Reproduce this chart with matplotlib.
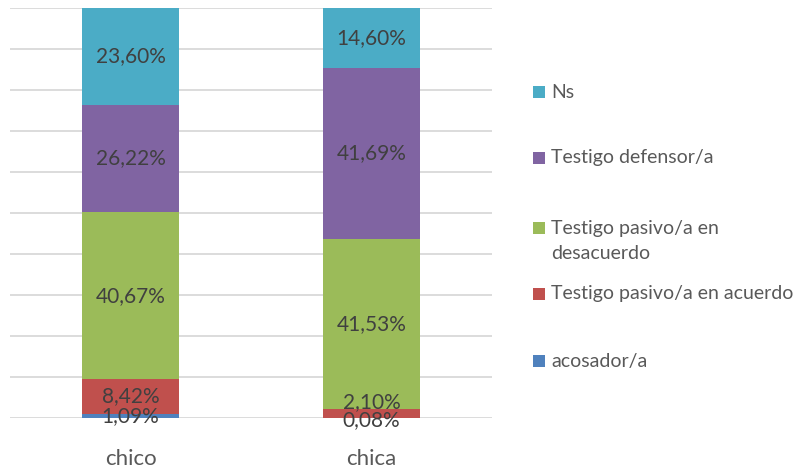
import matplotlib
matplotlib.use("Agg")
import matplotlib.pyplot as plt
from matplotlib.patches import Rectangle

categories = ["chico", "chica"]
series_names = ["acosador/a", "Testigo pasivo/a en acuerdo",
                "Testigo pasivo/a en\ndesacuerdo", "Testigo defensor/a", "Ns"]
acosador = [1.09, 0.08]
pasivo_acuerdo = [8.42, 2.10]
pasivo_desacuerdo = [40.67, 41.53]
defensor = [26.22, 41.69]
ns = [23.60, 14.60]
series_values = [acosador, pasivo_acuerdo, pasivo_desacuerdo, defensor, ns]
colors = ["#4F81BD", "#C0504D", "#9BBB59", "#8064A2", "#4BACC6"]

# label nudges in pixels (Excel moved the crowded chica labels apart)
label_nudge_px = {(0, 1): -2, (1, 1): 11}

FONT = "Lato"
plt.rcParams['font.family'] = [FONT, 'DejaVu Sans']

fig = plt.figure(figsize=(7.95, 4.70), dpi=100)
ax = fig.add_axes([10/795, 52/470, 482/795, 410/470])

x = list(range(len(categories)))
bottoms = [0.0] * len(categories)
for si, (vals, col) in enumerate(zip(series_values, colors)):
    ax.bar(x, vals, width=0.4, bottom=bottoms, color=col, zorder=3,
           edgecolor="none")
    for xi, v, b in zip(x, vals, bottoms):
        dy = label_nudge_px.get((si, xi), 0) * 72 / 100
        ax.annotate(f"{v:.2f}%".replace(".", ","), (xi, b + v / 2),
                    xytext=(0, dy), textcoords="offset points",
                    ha="center", va="center", fontsize=15, color="#404040",
                    zorder=4)
    bottoms = [b + v for b, v in zip(bottoms, vals)]

ax.set_xlim(-0.5, 1.5)
ax.set_ylim(0, 100)
ax.set_yticks(range(0, 101, 10))
ax.yaxis.grid(True, color="#D9D9D9", linewidth=1.3, zorder=0)
ax.tick_params(axis="y", left=False, labelleft=False)
ax.tick_params(axis="x", bottom=False, labelsize=16, labelcolor="#595959", pad=19)
ax.set_xticks(x)
ax.set_xticklabels(categories)
for s in ax.spines.values():
    s.set_visible(False)

# legend (top to bottom: Ns ... acosador/a)
legend_y = [92, 158, 228, 294, 361]
for i, yy in enumerate(legend_y):
    idx = len(series_names) - 1 - i
    fig.patches.append(Rectangle((533/795, 1 - (yy + 6)/470), 12/795, 12/470,
                                 transform=fig.transFigure, facecolor=colors[idx],
                                 edgecolor="none"))
    multi = "\n" in series_names[idx]
    fig.text(551/795, 1 - (yy - 8)/470 if multi else 1 - yy/470,
             series_names[idx], ha="left", va="top" if multi else "center",
             fontsize=14, color="#595959", linespacing=1.55)

fig.savefig("out.png", dpi=100)
